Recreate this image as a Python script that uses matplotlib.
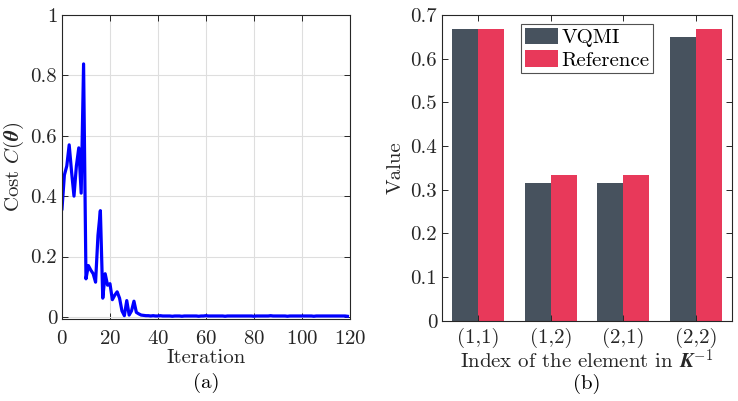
import matplotlib
matplotlib.use("Agg")
import matplotlib.pyplot as plt
import numpy as np

plt.rcParams['font.family'] = 'serif'
plt.rcParams['font.serif'] = ['cmr10']
plt.rcParams['mathtext.fontset'] = 'cm'
plt.rcParams['axes.formatter.use_mathtext'] = True
plt.rcParams['axes.unicode_minus'] = False

# ---- data: panel (a) ----
cost_head = [0.358, 0.47, 0.50, 0.57, 0.48, 0.40, 0.50, 0.56, 0.41, 0.838,
             0.126, 0.17, 0.155, 0.143, 0.115, 0.27, 0.352, 0.062, 0.143, 0.105,
             0.11, 0.057, 0.072, 0.083, 0.062, 0.02, 0.004, 0.054, 0.006, 0.02,
             0.052, 0.015, 0.010, 0.006, 0.005]
cost_tail = [0.004, 0.004, 0.003, 0.004, 0.003, 0.003, 0.004, 0.003, 0.003, 0.003,
             0.003, 0.002, 0.003, 0.003, 0.003, 0.002, 0.003, 0.003, 0.003, 0.003,
             0.003, 0.003, 0.002, 0.003, 0.003, 0.004, 0.003, 0.003, 0.003, 0.003,
             0.003, 0.003, 0.003, 0.002, 0.003, 0.003, 0.003, 0.003, 0.003, 0.003,
             0.003, 0.003, 0.003, 0.003, 0.003, 0.002, 0.003, 0.003, 0.003, 0.003,
             0.003, 0.003, 0.004, 0.003, 0.003, 0.003, 0.003, 0.003, 0.003, 0.002,
             0.003, 0.003, 0.003, 0.003, 0.003, 0.003, 0.003, 0.003, 0.003, 0.003,
             0.002, 0.003, 0.003, 0.003, 0.003, 0.003, 0.003, 0.003, 0.003, 0.003,
             0.003, 0.003, 0.003, 0.003, 0.002]
cost = cost_head + cost_tail
iterations = list(range(len(cost)))

# ---- data: panel (b) ----
categories = ['(1,1)', '(1,2)', '(2,1)', '(2,2)']
vqmi = [0.667, 0.316, 0.316, 0.649]
reference = [0.667, 0.333, 0.333, 0.667]

fs = 15
axcol = '#262626'

fig = plt.figure(figsize=(7.38, 4.01), dpi=100)

# ---------- panel (a) ----------
ax1 = fig.add_axes([0.084, 0.2045, 0.390, 0.758])
ax1.plot(iterations, cost, color='#0000FF', lw=2.3)
ax1.set_xlim(0, 120)
ax1.set_ylim(-0.007, 1)
ax1.set_xticks(np.arange(0, 121, 20))
ax1.set_yticks([0, 0.2, 0.4, 0.6, 0.8, 1])
ax1.set_yticklabels(['0', '0.2', '0.4', '0.6', '0.8', '1'])
ax1.grid(True, color='#dedede', lw=0.8)
ax1.set_axisbelow(True)
ax1.set_xlabel('Iteration', fontsize=fs, labelpad=1)
ax1.set_ylabel(r'Cost $C(\mathbfit{\theta})$', fontsize=fs, labelpad=3)
ax1.text(0.5, -0.21, '(a)', transform=ax1.transAxes, ha='center', va='center', fontsize=fs)

# ---------- panel (b) ----------
ax2 = fig.add_axes([0.599, 0.200, 0.393, 0.7626])
x = np.arange(1, len(categories) + 1)
w = 0.357
ax2.bar(x - w / 2, vqmi, width=w, color='#47525E', label='VQMI')
ax2.bar(x + w / 2, reference, width=w, color='#E8395A', label='Reference')
ax2.set_xlim(0.5, 4.5)
ax2.set_ylim(0, 0.7)
ax2.set_xticks(x)
ax2.set_xticklabels(categories)
ax2.set_yticks(np.arange(0, 0.71, 0.1))
ax2.set_yticklabels(['0', '0.1', '0.2', '0.3', '0.4', '0.5', '0.6', '0.7'])
ax2.set_ylabel('Value', fontsize=fs, labelpad=4)
leg = ax2.legend(loc='upper center', bbox_to_anchor=(0.5, 0.985), fontsize=fs,
                 frameon=True, fancybox=False, edgecolor=axcol, handlelength=1.6,
                 handleheight=0.85, handletextpad=0.15, borderpad=0.18,
                 labelspacing=0.15, borderaxespad=0.2)
leg.get_frame().set_linewidth(0.8)

for ax in (ax1, ax2):
    for s in ax.spines.values():
        s.set_color(axcol)
        s.set_linewidth(0.8)
    ax.tick_params(direction='in', top=True, right=True, labelsize=fs,
                   color=axcol, labelcolor=axcol, length=4, width=0.7)
    ax.tick_params(axis='x', pad=8)
    ax.xaxis.label.set_color(axcol)
    ax.yaxis.label.set_color(axcol)
ax2.tick_params(axis='x', pad=5)
ax2.set_xlabel(r'Index of the element in $\mathbfit{K}^{-1}$', fontsize=fs, labelpad=0.5,
               color=axcol)

# place "(b)" directly below the x label
fig.canvas.draw()
bb = ax2.xaxis.label.get_window_extent()
x_mid, y_low = fig.transFigure.inverted().transform(((bb.x0 + bb.x1) / 2, bb.y0 - 1))
fig.text(x_mid, y_low, '(b)', ha='center', va='top', fontsize=fs, color='black')

fig.savefig('out.png', dpi=100)
